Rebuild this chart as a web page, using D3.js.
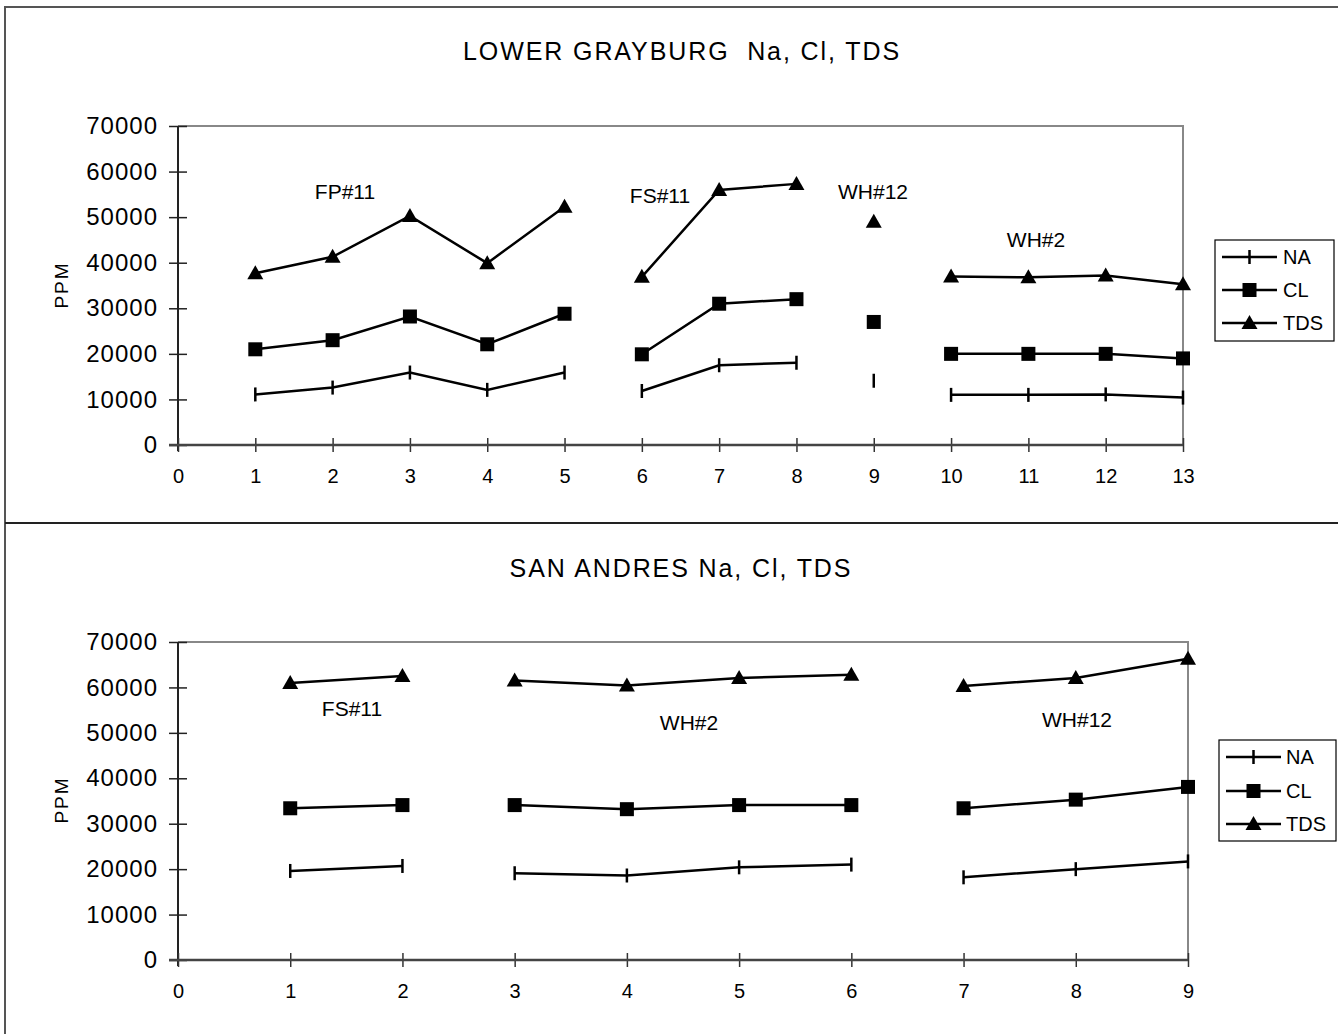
<!DOCTYPE html>
<html>
<head>
<meta charset="utf-8">
<script src="https://cdn.jsdelivr.net/npm/d3@7"></script>
<style>
  html, body { margin: 0; padding: 0; background: #fff; }
  svg { display: block; font-family: "Liberation Sans", Arial, sans-serif; }
  .title { white-space: pre; }
</style>
</head>
<body>
<svg id="chart" width="1338" height="1034"></svg>
<script>
// ---------------- DATA ----------------
const seriesNames = ["NA", "CL", "TDS"];

// LOWER GRAYBURG
const topTitle = "LOWER GRAYBURG  Na, Cl, TDS";
const topX = [1, 2, 3, 4, 5, 6, 7, 8, 9, 10, 11, 12, 13];
const topWell = ["FP#11", "FP#11", "FP#11", "FP#11", "FP#11", "FS#11", "FS#11", "FS#11", "WH#12", "WH#2", "WH#2", "WH#2", "WH#2"];
const topNA  = [11100, 12600, 15900, 12100, 15900, 11850, 17500, 18050, 14100, 11000, 11000, 11100, 10400];
const topCL  = [21000, 23000, 28200, 22100, 28800, 19900, 31000, 32000, 27000, 20000, 20000, 20000, 19000];
const topTDS = [37700, 41300, 50250, 39900, 52300, 36900, 55950, 57300, 49000, 36950, 36800, 37200, 35300];
const topXTicks = [0, 1, 2, 3, 4, 5, 6, 7, 8, 9, 10, 11, 12, 13];

// SAN ANDRES
const botTitle = "SAN ANDRES Na, Cl, TDS";
const botX = [1, 2, 3, 4, 5, 6, 7, 8, 9];
const botWell = ["FS#11", "FS#11", "WH#2", "WH#2", "WH#2", "WH#2", "WH#12", "WH#12", "WH#12"];
const botNA  = [19600, 20700, 19100, 18600, 20400, 21000, 18200, 20000, 21700];
const botCL  = [33400, 34100, 34100, 33200, 34100, 34100, 33400, 35300, 38100];
const botTDS = [61000, 62500, 61500, 60400, 62100, 62800, 60300, 62100, 66300];
const botXTicks = [0, 1, 2, 3, 4, 5, 6, 7, 8, 9];

const yTicks = [0, 10000, 20000, 30000, 40000, 50000, 60000, 70000];
const yLabel = "PPM";

// ---------------- LAYOUT ----------------
const svg = d3.select("#chart");
const FONT = "Liberation Sans, Arial, sans-serif";

// outer frame + divider
svg.append("rect").attr("x", 5).attr("y", 7).attr("width", 1340).attr("height", 1040)
  .attr("fill", "none").attr("stroke", "#555").attr("stroke-width", 2);
svg.append("line").attr("x1", 5).attr("x2", 1338).attr("y1", 523).attr("y2", 523)
  .attr("stroke", "#222").attr("stroke-width", 2);

function marker(g, type, cx, cy) {
  if (type === "NA") {
    g.append("line").attr("x1", cx).attr("x2", cx).attr("y1", cy - 7).attr("y2", cy + 7)
      .attr("stroke", "#000").attr("stroke-width", 2.5);
  } else if (type === "CL") {
    g.append("rect").attr("x", cx - 7).attr("y", cy - 7).attr("width", 14).attr("height", 14)
      .attr("fill", "#000");
  } else {
    g.append("path").attr("d", `M${cx},${cy - 8}L${cx + 8},${cy + 6}L${cx - 8},${cy + 6}Z`)
      .attr("fill", "#000");
  }
}

function drawChart(cfg) {
  const g = svg.append("g");
  const x = d3.scaleLinear().domain([0, cfg.xMax]).range([cfg.left, cfg.right]);
  const y = d3.scaleLinear().domain([0, 70000]).range([cfg.bottom, cfg.top]);

  // title
  g.append("text").attr("class", "title").attr("xml:space", "preserve")
    .attr("x", cfg.titleX).attr("y", cfg.titleY)
    .attr("text-anchor", "middle").attr("font-size", 25).attr("letter-spacing", "1.9px")
    .attr("fill", "#000").text(cfg.title);

  // plot border (top/right grey)
  g.append("path")
    .attr("d", `M${cfg.left},${cfg.top}H${cfg.right}V${cfg.bottom}`)
    .attr("fill", "none").attr("stroke", "#888").attr("stroke-width", 2);

  // y axis
  const ya = d3.axisLeft(y).tickValues(yTicks).tickSize(9).tickSizeOuter(0).tickPadding(11)
    .tickFormat(d3.format("d"));
  const yg = g.append("g").attr("transform", `translate(${cfg.left},0)`).call(ya);
  yg.select(".domain").remove();
  yg.selectAll(".tick line").attr("x1", 9).attr("stroke", "#222").attr("stroke-width", 1.5);
  yg.selectAll(".tick text").attr("font-size", 24).attr("letter-spacing", "1px")
    .attr("font-family", FONT).attr("fill", "#000");
  g.append("line").attr("x1", cfg.left).attr("x2", cfg.left).attr("y1", cfg.top).attr("y2", cfg.bottom + 6)
    .attr("stroke", "#222").attr("stroke-width", 2);

  // x axis
  const xa = d3.axisBottom(x).tickValues(cfg.xTicks).tickSize(7).tickSizeOuter(0).tickPadding(17)
    .tickFormat(d3.format("d"));
  const xg = g.append("g").attr("transform", `translate(0,${cfg.bottom})`).call(xa);
  xg.select(".domain").remove();
  xg.selectAll(".tick line").attr("y1", -7).attr("stroke", "#333").attr("stroke-width", 1.5);
  xg.selectAll(".tick text").attr("font-size", 20).attr("font-family", FONT).attr("fill", "#000");
  g.append("line").attr("x1", cfg.left - 9).attr("x2", cfg.right).attr("y1", cfg.bottom).attr("y2", cfg.bottom)
    .attr("stroke", "#444").attr("stroke-width", 2.5);

  // y label
  g.append("text").attr("transform", `translate(${cfg.yLabelX},${cfg.yLabelY}) rotate(-90)`)
    .attr("text-anchor", "middle").attr("font-size", 19).attr("letter-spacing", "2px")
    .attr("fill", "#000").text(yLabel);

  // series
  const line = d3.line().x(d => x(d.x)).y(d => y(d.v));
  const series = [["NA", cfg.na], ["CL", cfg.cl], ["TDS", cfg.tds]];
  const wells = Array.from(new Set(cfg.well));
  series.forEach(([name, vals]) => {
    const pts = cfg.xs.map((xv, i) => ({ x: xv, v: vals[i], w: cfg.well[i] }));
    wells.forEach(w => {
      const seg = pts.filter(p => p.w === w);
      if (seg.length > 1) {
        g.append("path").attr("d", line(seg)).attr("fill", "none")
          .attr("stroke", "#000").attr("stroke-width", 2.5).attr("stroke-linejoin", "miter");
      }
    });
    pts.forEach(p => marker(g, name, x(p.x), y(p.v)));
  });

  // well annotations
  cfg.notes.forEach(n => {
    g.append("text").attr("x", n.x).attr("y", n.y).attr("text-anchor", "middle")
      .attr("font-size", 21).attr("fill", "#000").text(n.t);
  });

  // legend
  const L = cfg.legend;
  g.append("rect").attr("x", L.x).attr("y", L.y).attr("width", L.w).attr("height", L.h)
    .attr("fill", "#fff").attr("stroke", "#000").attr("stroke-width", 1.2);
  seriesNames.forEach((s, i) => {
    const cy = L.rowY[i];
    g.append("line").attr("x1", L.lx1).attr("x2", L.lx2).attr("y1", cy).attr("y2", cy)
      .attr("stroke", "#000").attr("stroke-width", 2.5);
    marker(g, s, (L.lx1 + L.lx2) / 2, cy);
    g.append("text").attr("x", L.tx).attr("y", cy).attr("dy", "0.36em")
      .attr("font-size", 20).attr("fill", "#000").text(s);
  });
}

drawChart({
  title: topTitle, titleX: 682, titleY: 60,
  left: 178, right: 1183, top: 126, bottom: 445, xMax: 13, xTicks: topXTicks,
  xs: topX, well: topWell, na: topNA, cl: topCL, tds: topTDS,
  yLabelX: 68, yLabelY: 285,
  notes: [
    { t: "FP#11", x: 345, y: 199 },
    { t: "FS#11", x: 660, y: 203 },
    { t: "WH#12", x: 873, y: 199 },
    { t: "WH#2",  x: 1036, y: 247 }
  ],
  legend: { x: 1215, y: 240, w: 119, h: 101, rowY: [257, 290, 323], lx1: 1222, lx2: 1277, tx: 1283 }
});

drawChart({
  title: botTitle, titleX: 681, titleY: 577,
  left: 178, right: 1188, top: 642, bottom: 960, xMax: 9, xTicks: botXTicks,
  xs: botX, well: botWell, na: botNA, cl: botCL, tds: botTDS,
  yLabelX: 68, yLabelY: 800,
  notes: [
    { t: "FS#11", x: 352, y: 716 },
    { t: "WH#2",  x: 689, y: 730 },
    { t: "WH#12", x: 1077, y: 727 }
  ],
  legend: { x: 1219, y: 740, w: 117, h: 101, rowY: [757, 791, 824], lx1: 1226, lx2: 1281, tx: 1286 }
});
</script>
</body>
</html>
